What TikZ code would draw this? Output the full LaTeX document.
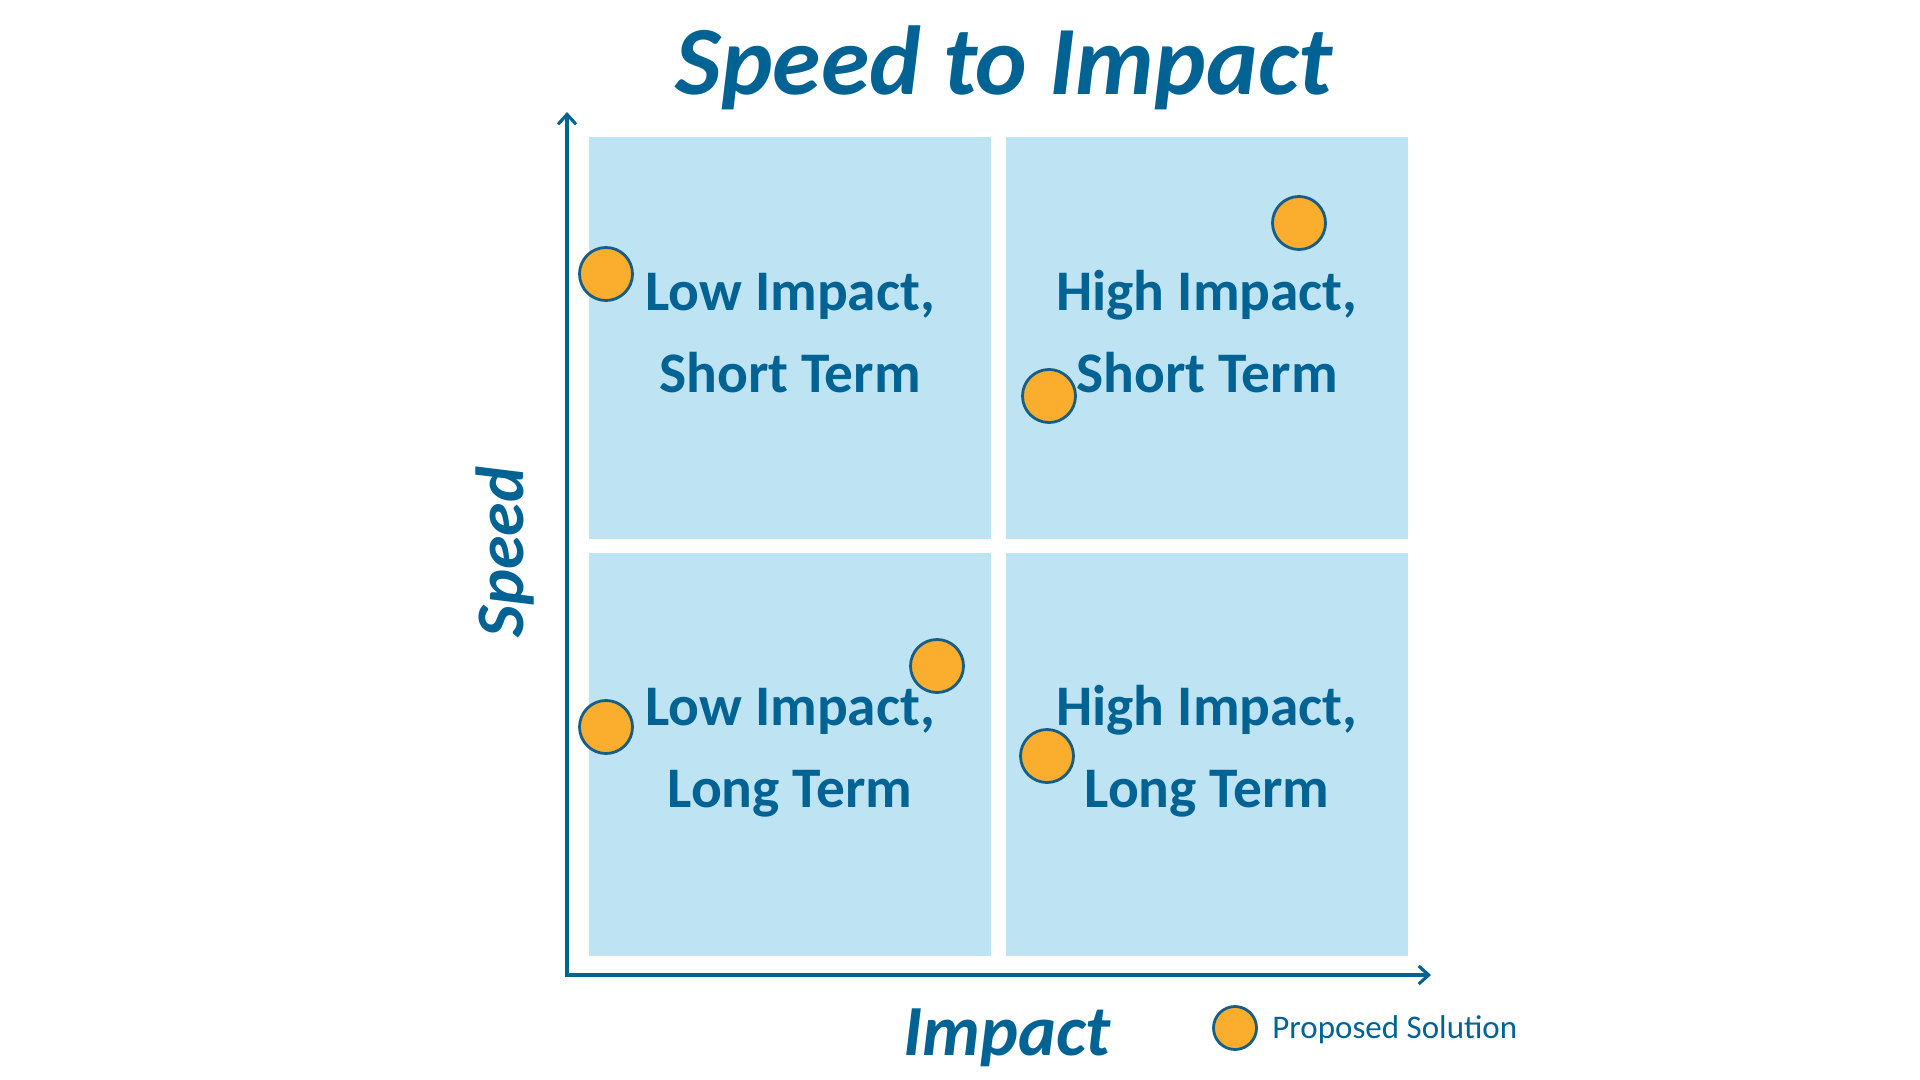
\documentclass[tikz,border=0pt]{standalone}
\usepackage{fontspec}
\setmainfont{Carlito}
\usetikzlibrary{arrows.meta}
\definecolor{dblue}{RGB}{0,99,148}
\definecolor{lblue}{RGB}{190,228,244}
\definecolor{dotorange}{RGB}{251,174,46}
\definecolor{dotline}{RGB}{22,94,134}
\tikzset{
  quad/.style={fill=lblue, draw=none},
  qlabel/.style={anchor=base, inner sep=0pt, text=dblue, font=\fontsize{28.7}{34}\selectfont\bfseries},
  hand/.style={inner sep=0pt, text=dblue, font=\bfseries\itshape},
  dot/.style={circle, fill=dotorange, draw=dotline, line width=1.4pt, minimum size=26.5pt, inner sep=0pt},
  legdot/.style={circle, fill=dotorange, draw=dotline, line width=1.4pt, minimum size=21.5pt, inner sep=0pt},
  axis/.style={draw=dblue, line width=1.55pt, {Straight Barb[length=5pt,width=9pt,line width=1.55pt]}-{Straight Barb[length=5pt,width=9pt,line width=1.55pt]}}
}
\begin{document}
\begin{tikzpicture}[x=0.5pt,y=-0.5pt]
\useasboundingbox (0,0) rectangle (1920,1080);
% quadrants
\path[quad] (589,137) rectangle (991,539);
\path[quad] (1006,137) rectangle (1408,539);
\path[quad] (589,553) rectangle (991,956);
\path[quad] (1006,553) rectangle (1408,956);
% axes
\coordinate (origin) at (567,975);
\coordinate (ytip) at (567,112);
\coordinate (xtip) at (1431,975);
\draw[axis] (ytip) -- (origin) -- (xtip);
% solution dots
\node[dot] (d1) at (606,274) {};
\node[dot] (d2) at (1299,223) {};
\node[dot] (d3) at (1049,396) {};
\node[dot] (d4) at (937,666) {};
\node[dot] (d5) at (606,727) {};
\node[dot] (d6) at (1047,756) {};
% quadrant labels
\node[qlabel] (tl1) at (790,310.7) {Low Impact,};
\node[qlabel] (tl2) at (790,392.7) {Short Term};
\node[qlabel] (tr1) at (1207,310.7) {High Impact,};
\node[qlabel] (tr2) at (1207,392.7) {Short Term};
\node[qlabel] (bl1) at (790,725.7) {Low Impact,};
\node[qlabel] (bl2) at (790,807.7) {Long Term};
\node[qlabel] (br1) at (1207,725.7) {High Impact,};
\node[qlabel] (br2) at (1207,807.7) {Long Term};
% titles
\node[hand, anchor=base, font=\fontsize{49}{55}\selectfont\bfseries\itshape] (title) at (1004,95) {Speed to Impact};
\node[hand, anchor=base, font=\fontsize{36}{40}\selectfont\bfseries\itshape] (xlabel) at (1007,1055) {Impact};
\node[hand, anchor=base, rotate=90, font=\fontsize{34}{40}\selectfont\bfseries\itshape] (ylabel) at (523,552) {Speed};
% legend
\node[legdot] (legdot) at (1235,1028) {};
\node[anchor=base west, inner sep=0pt, text=dblue, font=\fontsize{16.5}{20}\selectfont] (legtext) at (1272,1038.5) {Proposed Solution};
\end{tikzpicture}
\end{document}
